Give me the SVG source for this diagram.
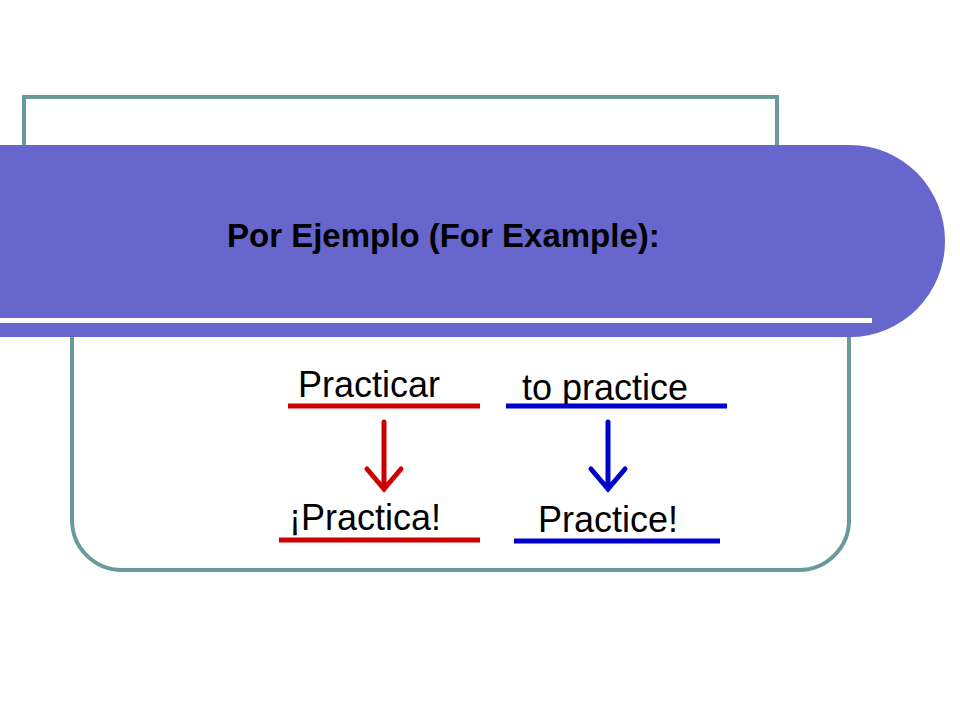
<svg xmlns="http://www.w3.org/2000/svg" width="960" height="720" viewBox="0 0 960 720">
<style>
.frame{fill:none;stroke:#6A9A9A;stroke-width:4}
.t{font-family:"Liberation Sans",Arial,sans-serif;fill:#000}
.w{font-size:36px}
.red{stroke:#CC0000;stroke-width:5;fill:none}
.blue{stroke:#0000CC;stroke-width:5;fill:none}
</style>
<rect width="960" height="720" fill="#fff"/>
<g id="frame">
<path class="frame" d="M24,145 V97 H777 V145"/>
<path class="frame" d="M72,335 V520 A50,50 0 0 0 122,570 H799 A50,50 0 0 0 849,520 V335"/>
</g>
<g id="banner">
<path d="M0,145 H850 A95,96 0 0 1 850,337 H0 Z" fill="#6666CC"/>
<rect x="0" y="318" width="872" height="5" fill="#fff"/>
<text class="t" x="227" y="247" font-size="33" font-weight="bold">Por Ejemplo (For Example):</text>
</g>
<g id="practicar"><text class="t w" x="298" y="397">Practicar</text></g>
<g id="topractice"><text class="t w" x="522" y="400">to practice</text></g>
<g id="practica"><text class="t w" x="289" y="530">¡Practica!</text></g>
<g id="practiceimp"><text class="t w" x="538" y="532">Practice!</text></g>
<g id="connectors">
<line class="red" x1="288" y1="406" x2="480" y2="406"/>
<line class="blue" x1="506" y1="406" x2="727" y2="406"/>
<line class="red" x1="279" y1="540" x2="480" y2="540"/>
<line class="blue" x1="514" y1="541" x2="720" y2="541"/>
<path class="red" d="M384,422 V489 M367,469 L384,489 L401,469" stroke-linecap="round"/>
<path class="blue" d="M608,422 V489 M591,469 L608,489 L625,469" stroke-linecap="round"/>
</g>
</svg>
